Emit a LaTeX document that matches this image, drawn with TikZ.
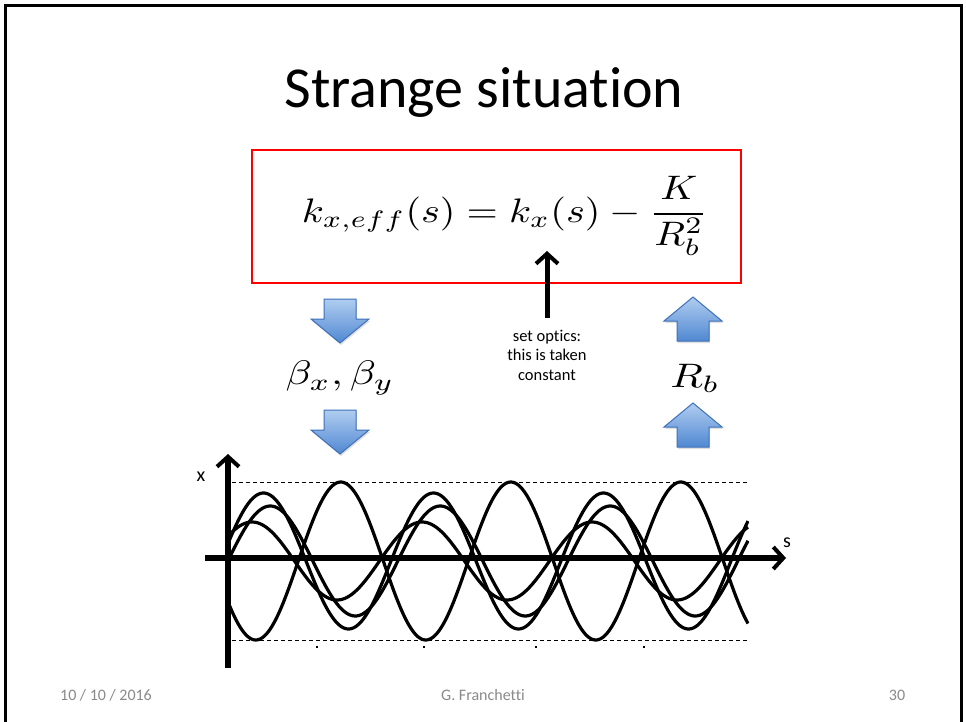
\documentclass[tikz,border=0pt]{standalone}
\usepackage{amsmath}
\usepackage{fontspec}
\setmainfont{Carlito}[Ligatures=NoCommon]
\usepackage{graphicx}
\usetikzlibrary{arrows.meta,shadows}
\definecolor{boxred}{HTML}{FF0000}
\definecolor{arrowline}{HTML}{3D71B8}
\definecolor{arrowtop}{HTML}{B0CDF0}
\definecolor{arrowbot}{HTML}{5088D2}
\definecolor{footgray}{HTML}{8A8A8A}
\newcommand{\bigmath}[1]{\scalebox{4.25}[3.4]{$\displaystyle #1$}}
\newcommand{\bigmathf}[1]{\scalebox{4.02}[3.4]{$\displaystyle #1$}}
\tikzset{
  blk/.style={draw=arrowline, line width=1pt, top color=arrowtop, bottom color=arrowbot,
    drop shadow={opacity=0.25, shadow xshift=1pt, shadow yshift=-2pt}},
  pics/downblk/.style={code={\path[blk] (-16,-22) -- (16,-22) -- (16,-2) -- (29,-2) -- (0,22) -- (-29,-2) -- (-16,-2) -- cycle;}},
  pics/upblk/.style={code={\path[blk] (-16,22) -- (16,22) -- (16,2) -- (29,2) -- (0,-22) -- (-29,2) -- (-16,2) -- cycle;}},
  axisline/.style={line width=5.5pt, -{Straight Barb[length=10pt,width=22pt,line width=4pt]}},
  curve/.style={line width=3.2pt, line join=round},
  guide/.style={line width=0.9pt, dash pattern=on 4pt off 3pt},
  foot/.style={font=\fontsize{16}{19}\selectfont, text=footgray},
  mathlbl/.style={font=\fontsize{10}{12}\selectfont, inner sep=0pt},
}
\begin{document}
\begin{tikzpicture}[x=1pt,y=-1pt]
\useasboundingbox (0,0) rectangle (966,722);
\fill[white] (0,0) rectangle (966,722);
% slide frame
\draw[line width=2.6pt] (5.5,722) -- (5.5,5.5) -- (961.5,5.5) -- (961.5,722);

% title
\node[anchor=base, font=\fontsize{58}{60}\selectfont] (title) at (484,108) {Strange situation};

% formula box
\node[draw=boxred, line width=2pt, minimum width=489pt, minimum height=133pt] (box) at (496,216.5) {};
\node[mathlbl] (formula) at (505,216) {\bigmathf{k_{x,eff}(s)=k_x(s)-\frac{K}{R_b^2}}};

% optics note and arrow
\node[align=center, font=\fontsize{16.5}{19.5}\selectfont] (optics) at (547,355) {set optics:\\this is taken\\constant};
\coordinate (optbot) at (547,318);
\coordinate (opttip) at (547,251);
\draw[line width=5pt, -{Straight Barb[length=10pt,width=22pt,line width=4pt]}] (optbot) -- (opttip);

% left chain
\pic at (340,321) {downblk};
\node[mathlbl] (beta) at (340,378) {\bigmath{\beta_x,\beta_y}};
\pic at (340,432) {downblk};

% right chain
\pic at (693,319) {upblk};
\node[mathlbl] (rb) at (695,378) {\bigmath{R_b}};
\pic at (693,425) {upblk};

% plot
\draw[guide] (232,482) -- (748,482);
\draw[guide] (232,640) -- (748,640);
\foreach \t in {317,424,536,644} \fill (\t-0.8,645.5) rectangle (\t+0.8,648);
\begin{scope}
\clip (228,470) rectangle (749,660);
\draw[curve] plot[domain=226:748, samples=260] (\x, {561+79*cos((\x-255.8)*2.117647)});
\draw[curve] plot[domain=226:748, samples=260] (\x, {561-68*cos((\x-263.5)*2.117647)});
\draw[curve] plot[domain=226:748, samples=260] (\x, {561-55*cos((\x-270.3)*2.117647)});
\draw[curve] plot[domain=226:748, samples=260] (\x, {561-39*cos((\x-252)*2.117647)});
\end{scope}
\coordinate (ybot) at (228,668);
\coordinate (ytop) at (228,454);
\coordinate (xleft) at (205,558);
\coordinate (xright) at (786,558);
\draw[axisline] (ybot) -- (ytop);
\draw[axisline] (xleft) -- (xright);
\node[font=\fontsize{20}{24}\selectfont] (xl) at (201,477) {x};
\node[font=\fontsize{20}{24}\selectfont] (sl) at (787,543) {s};

% footer
\node[foot] (date) at (106,695) {10 / 10 / 2016};
\node[foot] (author) at (483,695) {G. Franchetti};
\node[foot] (page) at (897,695) {30};
\end{tikzpicture}
\end{document}
